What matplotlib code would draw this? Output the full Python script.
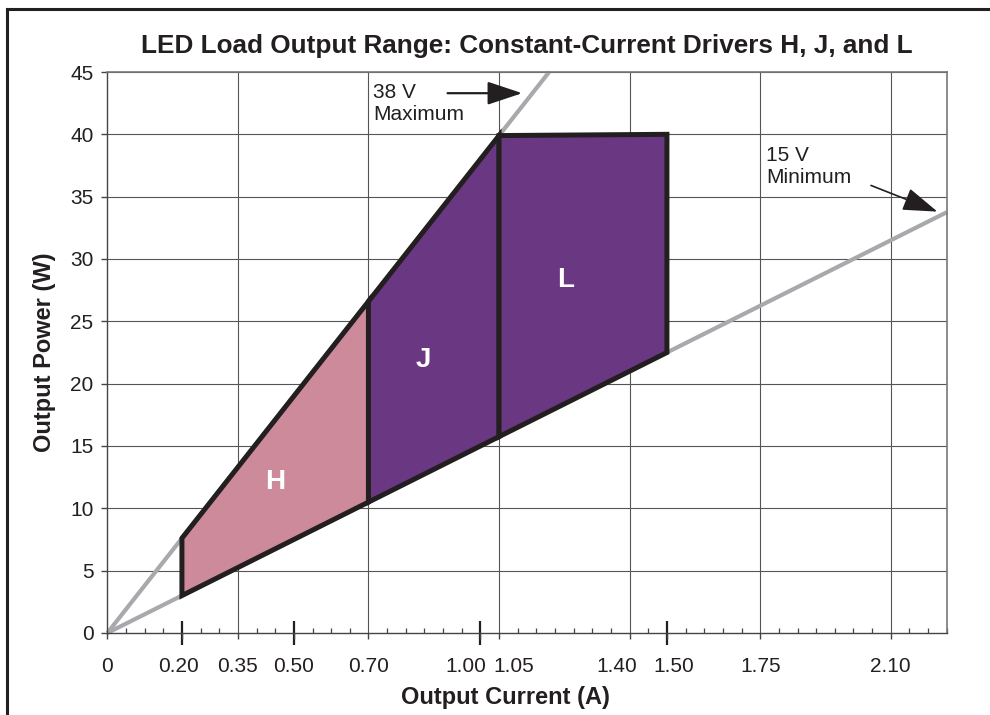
import matplotlib
matplotlib.use('Agg')
import matplotlib.pyplot as plt
import matplotlib.transforms as mtransforms
from matplotlib.patches import Polygon
import numpy as np

plt.rcParams['font.family'] = ['Liberation Sans', 'DejaVu Sans']

# driver voltage limits (V)
v_max = 38
v_min = 15

# driver current ranges (A) and power cap (W)
h_range = [0.20, 0.70]
j_range = [0.70, 1.05]
l_range = [1.05, 1.50]
l_power_cap = 40

x_tick_vals = [0, 0.20, 0.35, 0.50, 0.70, 1.00, 1.05, 1.40, 1.50, 1.75, 2.10]
x_tick_labels = ['0', '0.20', '0.35', '0.50', '0.70', '1.00', '1.05', '1.40', '1.50', '1.75', '2.10']
x_grid_vals = [0.35, 0.70, 1.05, 1.40, 1.75, 2.10]
x_long_ticks = [0.20, 0.50, 1.00, 1.50]
y_tick_vals = [0, 5, 10, 15, 20, 25, 30, 35, 40, 45]

x_max = 2.25
y_max = 45

pink = '#CC8A9B'
purple = '#6A3783'
edge = '#231F20'
line_gray = '#A7A9AC'
grid_col = '#555555'

fig = plt.figure(figsize=(9.9, 7.15), dpi=100)
ax = fig.add_axes([0.1084, 0.1147, 0.8479, 0.7846])

ax.set_xlim(0, x_max)
ax.set_ylim(0, y_max)

# grid
for gx in x_grid_vals:
    ax.axvline(gx, color=grid_col, lw=0.8, zorder=1)
for gy in y_tick_vals[1:]:
    ax.axhline(gy, color=grid_col, lw=0.8, zorder=1)

# voltage lines
i_top = y_max / v_max
ax.plot([0, i_top], [0, v_max * i_top], color=line_gray, lw=3, zorder=2,
        solid_capstyle='butt', clip_on=False)
ax.plot([0, x_max], [0, v_min * x_max], color=line_gray, lw=3, zorder=2,
        solid_capstyle='butt', clip_on=False)

def region(i0, i1, cap=None):
    top0 = v_max * i0
    top1 = v_max * i1 if cap is None else cap
    if cap is not None:
        top0 = min(v_max * i0, cap)
    return [(i0, v_min * i0), (i0, top0), (i1, top1), (i1, v_min * i1)]

h_poly = Polygon(region(*h_range), closed=True, facecolor=pink, edgecolor=edge,
                 lw=3.6, joinstyle='miter', zorder=3)
j_poly = Polygon(region(*j_range), closed=True, facecolor=purple, edgecolor=edge,
                 lw=3.6, joinstyle='miter', zorder=3)
l_poly = Polygon(region(l_range[0], l_range[1], l_power_cap), closed=True,
                 facecolor=purple, edgecolor=edge, lw=3.6, joinstyle='miter', zorder=3)
for p in (h_poly, j_poly, l_poly):
    ax.add_patch(p)

ax.text(0.449, 12.1, 'H', color='white', fontsize=20, fontweight='bold',
        ha='center', va='center', zorder=4)
ax.text(0.848, 21.9, 'J', color='white', fontsize=20, fontweight='bold',
        ha='center', va='center', zorder=4)
ax.text(1.229, 28.3, 'L', color='white', fontsize=20, fontweight='bold',
        ha='center', va='center', zorder=4)

# annotations
arrow = dict(arrowstyle='-|>,head_length=1.2,head_width=0.4', mutation_scale=18,
             color='#231F20', lw=1.6, shrinkA=0, shrinkB=0)
ax.text(0.712, 44.1, '38 V\nMaximum', fontsize=15, color='#231F20',
        ha='left', va='top', linespacing=1.2, zorder=5)
ax.annotate('', xy=(1.112, 43.3), xytext=(0.912, 43.3), arrowprops=arrow, zorder=5)
ax.text(1.766, 39.1, '15 V\nMinimum', fontsize=15, color='#231F20',
        ha='left', va='top', linespacing=1.2, zorder=5)
arrow2 = dict(arrow, lw=1.2)
ax.annotate('', xy=(2.225, 33.8), xytext=(2.047, 35.9), arrowprops=arrow2, zorder=5)

# spines
for side in ['top', 'right']:
    ax.spines[side].set_color('#777777')
    ax.spines[side].set_linewidth(1.2)
for side in ['left', 'bottom']:
    ax.spines[side].set_color('#444444')
    ax.spines[side].set_linewidth(1.0)

ax.set_xticks(x_tick_vals)
ax.set_xticklabels(x_tick_labels)
ax.set_xticks(np.arange(0, x_max + 0.001, 0.05), minor=True)
ax.set_yticks(y_tick_vals)
ax.tick_params(axis='x', which='major', direction='out', length=4, width=1,
               color='#444444', labelsize=15, pad=13, labelcolor='#231F20')
ax.tick_params(axis='x', which='minor', direction='in', length=3.5, width=0.9,
               color='#444444')
ax.tick_params(axis='y', which='major', direction='out', length=4, width=1,
               color='#444444', labelsize=15, pad=6, labelcolor='#231F20')

# nudge crowded tick labels apart (pixels)
nudge = {'0.20': -3, '1.00': -15, '1.05': 15, '1.40': -13, '1.50': 7}
for lab in ax.get_xticklabels():
    dx = nudge.get(lab.get_text(), 0)
    if dx:
        lab.set_transform(lab.get_transform() +
                          mtransforms.ScaledTranslation(dx / 100, 0, fig.dpi_scale_trans))

# long in/out ticks
sec = ax.secondary_xaxis('bottom')
sec.set_xticks(x_long_ticks)
sec.tick_params(direction='inout', length=17, width=1.6, color='#231F20',
                labelbottom=False)
sec.spines['bottom'].set_visible(False)

ax.set_xlabel('Output Current (A)', fontsize=17, fontweight='bold', color='#231F20')
ax.set_ylabel('Output Power (W)', fontsize=17, fontweight='bold', color='#231F20')
ax.xaxis.set_label_coords(0.474, -0.095)
ax.yaxis.set_label_coords(-0.061, 0.5)

fig.text(0.532, 0.935, 'LED Load Output Range: Constant-Current Drivers H, J, and L',
         fontsize=18.8, fontweight='bold', ha='center', va='center', color='#231F20')

# outer frame (top and left edges)
fig.add_artist(plt.Line2D([7 / 990, 1.0], [1 - 9 / 715, 1 - 9 / 715],
                          transform=fig.transFigure, color='#231F20', lw=2.2))
fig.add_artist(plt.Line2D([7 / 990, 7 / 990], [0, 1 - 9 / 715],
                          transform=fig.transFigure, color='#231F20', lw=2.2))

fig.savefig('out.png', dpi=100)
